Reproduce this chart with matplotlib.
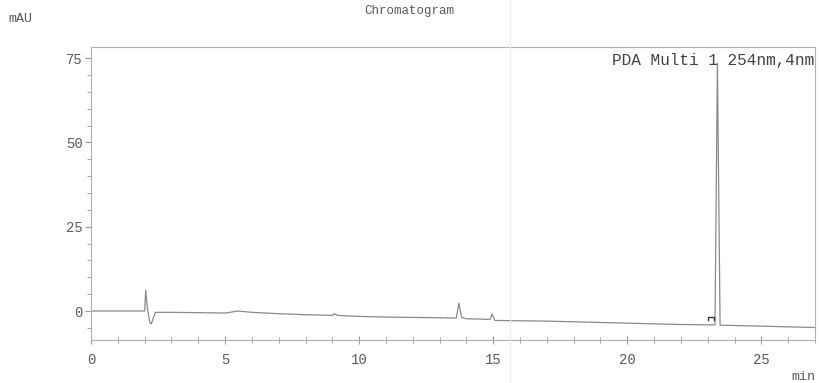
"""HPLC chromatogram (PDA 254 nm) redrawn with matplotlib."""

import matplotlib
matplotlib.use("Agg")
import matplotlib.pyplot as plt
from matplotlib.lines import Line2D
from matplotlib.ticker import MultipleLocator

# trace: retention time (min) / signal (mAU)
time_min = [0.0, 1.0, 2.0, 2.04, 2.1, 2.2, 2.25, 2.4, 3.0, 4.0, 5.0, 5.5, 6.0,
            7.0, 8.0, 9.0, 9.07, 9.2, 10.0, 11.0, 12.0, 13.0, 13.62, 13.72,
            13.82, 14.0, 14.5, 14.88, 14.96, 15.06, 16.0, 17.0, 18.0, 19.0,
            20.0, 21.0, 22.0, 23.0, 23.27, 23.36, 23.46, 24.0, 25.0, 26.0, 27.0]
signal_mau = [0.0, 0.0, 0.0, 6.2, 1.0, -3.6, -3.8, -0.4, -0.4, -0.5, -0.6,
              0.0, -0.4, -0.8, -1.1, -1.3, -0.8, -1.3, -1.6, -1.8, -1.9, -2.0,
              -2.1, 2.3, -1.9, -2.3, -2.4, -2.5, -0.9, -2.8, -2.9, -3.0, -3.2,
              -3.4, -3.6, -3.8, -4.0, -4.1, -4.1, 73.5, -4.2, -4.3, -4.5,
              -4.7, -4.9]

x_ticks = [0, 5, 10, 15, 20, 25]
y_ticks = [0, 25, 50, 75]

INK = "#5a5a5a"
LINE = "#8a8a8a"
MONO = "Liberation Mono"

fig = plt.figure(figsize=(8.19, 3.83), dpi=100)
ax = fig.add_axes([91 / 819, 1 - 340 / 383, (815 - 91) / 819, (340 - 47) / 383])

ax.plot(time_min, signal_mau, color=LINE, lw=0.9)

# integration start/stop marks of the main peak
ax.plot([23.0, 23.0, 23.25, 23.25], [-2.6, -1.9, -1.9, -2.6], color="#333333", lw=1.0)

ax.set_xlim(0, 27)
ax.set_ylim(-8.6, 78.3)
ax.set_xticks(x_ticks)
ax.set_yticks(y_ticks)
ax.xaxis.set_minor_locator(MultipleLocator(1))
ax.yaxis.set_minor_locator(MultipleLocator(5))

for s in ax.spines.values():
    s.set_color("#b0b0b0")
    s.set_linewidth(0.8)

ax.tick_params(axis="x", which="major", direction="inout", length=6, color="#999999",
               labelsize=10, labelcolor=INK, pad=6)
ax.tick_params(axis="x", which="minor", direction="inout", length=4, color="#999999")
ax.tick_params(axis="y", which="major", direction="out", length=4, color="#999999",
               labelsize=10, labelcolor=INK, pad=2)
ax.tick_params(axis="y", which="minor", direction="out", length=3, color="#999999")
for lab in ax.get_xticklabels() + ax.get_yticklabels():
    lab.set_family(MONO)

fig.text(0.5, 0.972, "Chromatogram", ha="center", va="center", fontsize=9,
         family=MONO, color=INK)
fig.text(8 / 819, 1 - 19 / 383, "mAU", ha="left", va="center", fontsize=9.5,
         family=MONO, color=INK)
fig.text(815 / 819, 1 - 377 / 383, "min", ha="right", va="center", fontsize=9.5,
         family=MONO, color=INK)
ax.text(0.999, 0.955, "PDA Multi 1 254nm,4nm", transform=ax.transAxes,
        ha="right", va="center", fontsize=11.6, family=MONO, color="#444444")

# faint fold line from the scanned page
fig.add_artist(Line2D([510 / 819, 510 / 819], [0, 1], transform=fig.transFigure,
                      color="#ececec", lw=0.8))

fig.savefig("out.png", dpi=100)
